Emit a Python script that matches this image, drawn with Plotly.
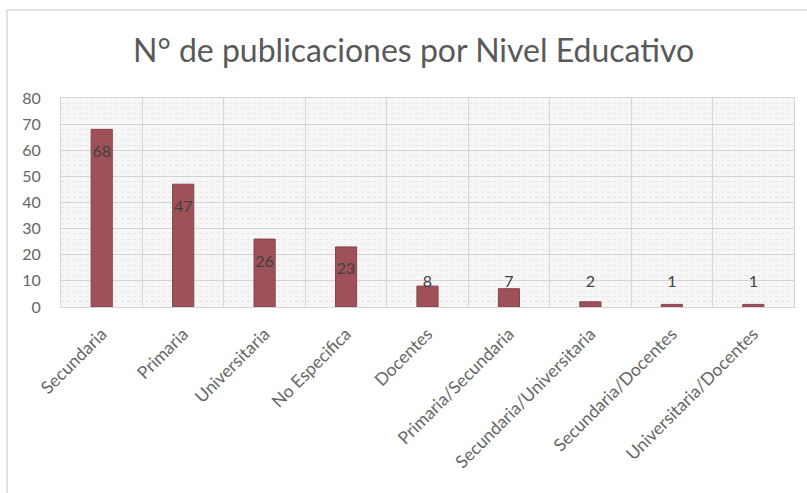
import plotly.graph_objects as go

categories = ["Secundaria", "Primaria", "Universitaria", "No Especifica", "Docentes",
              "Primaria/Secundaria", "Secundaria/Universitaria", "Secundaria/Docentes",
              "Universitaria/Docentes"]
values = [68, 47, 26, 23, 8, 7, 2, 1, 1]
y_ticks = [0, 10, 20, 30, 40, 50, 60, 70, 80]
title_text = "N° de publicaciones por Nivel Educativo"

label_y = [max(v - 9, 9) for v in values]

W, H = 807, 493
L, R, T, B = 61, 13, 98, 186
PW, PH = W - L - R, H - T - B

fig = go.Figure()
fig.add_trace(go.Bar(
    x=categories, y=values, width=0.26,
    marker=dict(color="#9E5158", line=dict(color="#8A434A", width=1)),
    hoverinfo="x+y",
))
fig.add_trace(go.Scatter(
    x=categories, y=label_y, mode="text", text=[str(v) for v in values],
    textposition="middle center",
    textfont=dict(family="Lato, Open Sans, sans-serif", size=16, color="#404040"),
    hoverinfo="skip",
))

fig.update_layout(
    width=W, height=H,
    margin=dict(l=L, r=R, t=T, b=B, pad=0),
    paper_bgcolor="white", plot_bgcolor="#F6F6F6",
    showlegend=False,
    font=dict(family="Lato, Open Sans, sans-serif", color="#595959"),
    annotations=[dict(
        text=title_text, xref="paper", yref="paper",
        x=(413 - L) / PW, y=1 + (T - 50) / PH,
        xanchor="center", yanchor="middle", showarrow=False,
        font=dict(family="Lato, Open Sans, sans-serif", size=32, color="#595959"),
    )],
    shapes=[dict(
        type="rect", xref="paper", yref="paper", layer="below",
        x0=(7 - L) / PW, x1=(815 - L) / PW,
        y0=1 + (T - 500) / PH, y1=1 + (T - 10) / PH,
        line=dict(color="#D9D9D9", width=1.5), fillcolor="rgba(0,0,0,0)",
    )],
    bargap=0.74,
)

fig.update_xaxes(
    type="category", tickson="boundaries", showgrid=True, gridcolor="#D6D6D6",
    gridwidth=1, tickangle=-45, ticks="", showline=True, linecolor="#D6D6D6",
    mirror=True, tickfont=dict(size=17.5, color="#666666"),
    ticklabelstandoff=9,
    range=[-0.5, len(categories) - 0.5], fixedrange=True,
)
fig.update_yaxes(
    range=[0, 80], tickvals=y_ticks, ticktext=[str(t) for t in y_ticks],
    showgrid=True, gridcolor="#D3D3D3", gridwidth=1,
    minor=dict(dtick=2, showgrid=True, gridcolor="#E6E6E6", griddash="dot"),
    zeroline=False, showline=True, linecolor="#D6D6D6", mirror=True,
    ticks="", ticklabelstandoff=16,
    tickfont=dict(size=16, color="#666666"), fixedrange=True,
)

fig.write_html("out.html", config={"displayModeBar": False},
               post_script="document.body.style.margin='0';")
